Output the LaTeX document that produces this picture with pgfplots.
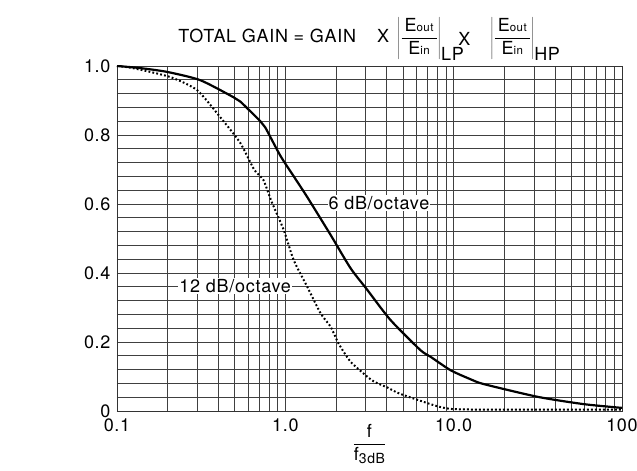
\documentclass[border=0pt]{standalone}
\usepackage{fontspec}
\setmainfont{TeX Gyre Heros}[LetterSpace=4.0]
\usepackage{pgfplots}
\pgfplotsset{compat=1.18}
\newcommand{\sm}[1]{{\fontsize{11.5}{11.5}\selectfont #1}}
\newcommand{\EF}{\left|\displaystyle\frac{\mbox{\,E\sm{out}\,}}{\mbox{\,E\sm{in}\,}}\right|}
\begin{document}
\begin{tikzpicture}
\useasboundingbox (-117pt,-60pt) rectangle (520pt,411pt);
\begin{axis}[
  scale only axis, width=505pt, height=345pt,
  at={(0,0)}, anchor=south west,
  xmode=log, xmin=0.1, xmax=100, ymin=0, ymax=1,
  xtick={0.1,1,10,100}, xticklabels={0.1,1.0,10.0,100},
  ytick={0,0.2,0.4,0.6,0.8,1}, yticklabels={0,0.2,0.4,0.6,0.8,1.0},
  minor y tick num=4,
  grid=both,
  major grid style={black!75, line width=0.7pt},
  minor grid style={black!75, line width=0.7pt},
  axis line style={black!80, line width=0.8pt},
  major tick length=0pt, minor tick length=0pt,
  tick label style={font=\fontsize{18}{18}\selectfont},
  /pgf/number format/assume math mode=true,
  xticklabel style={yshift=-4pt},
  yticklabel style={xshift=-3pt},
  title={TOTAL GAIN = GAIN\hspace{21pt}X\hspace{8pt}$\displaystyle\EF_{\mbox{LP}}$\hspace{-6pt}\raisebox{-3pt}{X}\hspace{20pt}$\displaystyle\EF_{\mbox{HP}}$},
  title style={font=\fontsize{18}{18}\selectfont, at={(0.5,1)}, anchor=base, yshift=17pt},
  xlabel={$\displaystyle\frac{\mbox{\,f\,}}{\mbox{f{\fontsize{14}{14}\selectfont\raisebox{-3pt}{3dB}}}}$},
  xlabel style={font=\fontsize{18}{18}\selectfont, at={(0.5,0)}, anchor=base, yshift=-38pt},
]
\addplot[black, line width=2.2pt, smooth, tension=0.4] coordinates {
(0.1,1.0) (0.137,0.994) (0.198,0.983) (0.312,0.959) (0.49,0.910) (0.54,0.897) (0.71,0.840)
(0.76,0.822) (0.934,0.740) (1.14,0.675) (1.35,0.620) (1.86,0.510) (2.44,0.414)
(3.07,0.351) (4.21,0.264) (6.33,0.177) (7.3,0.157) (9.6,0.118) (12.6,0.092) (15.1,0.078)
(31.6,0.041) (59,0.020) (100,0.009)
};
\addplot[black, line width=2pt, dash pattern=on 1.8pt off 2.2pt, smooth, tension=0.4] coordinates {
(0.1,1.0) (0.124,0.994) (0.207,0.968) (0.299,0.930) (0.41,0.852) (0.54,0.777)
(0.654,0.699) (0.74,0.67) (0.83,0.606) (0.978,0.525) (1.12,0.438) (1.35,0.36)
(1.62,0.283) (1.86,0.244) (2.07,0.196) (2.44,0.143) (3.06,0.10) (3.37,0.085) (4.04,0.068) (4.8,0.050)
(7.6,0.017) (9.6,0.006) (15,0.004) (30,0.004) (60,0.004) (100,0.004)
};
\node[fill=white, inner sep=1pt, font=\fontsize{18}{18}\selectfont] at (axis cs:3.6,0.603) {6 dB/octave};
\node[fill=white, inner sep=1pt, font=\fontsize{18}{18}\selectfont] at (axis cs:0.504,0.362) {12 dB/octave};
\node[anchor=base east, inner sep=0pt, xshift=-27pt, yshift=195pt, font=\fontsize{18}{18}\selectfont] at (rel axis cs:0,0) {$\displaystyle\EF_{\mbox{LP}}$};
\end{axis}
\end{tikzpicture}
\end{document}
